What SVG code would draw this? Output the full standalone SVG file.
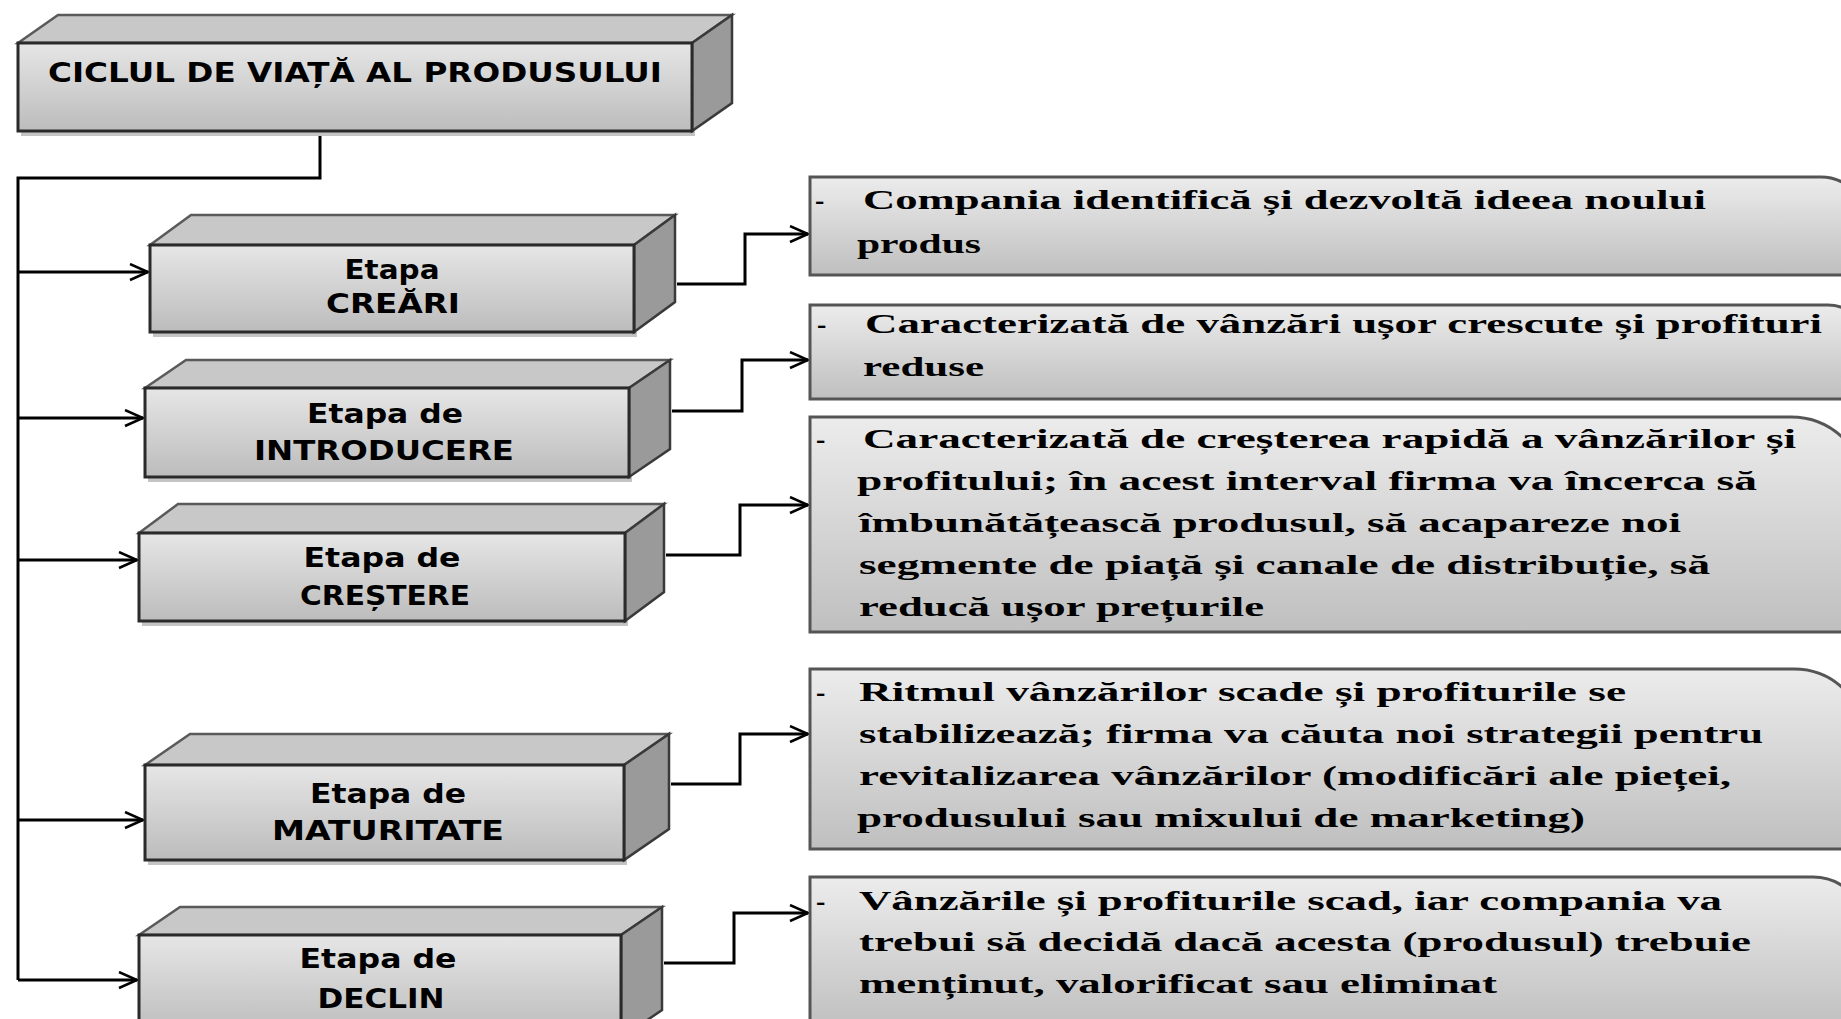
<svg xmlns="http://www.w3.org/2000/svg" width="1841" height="1019" viewBox="0 0 1841 1019">
<style>
.front{fill:url(#gFront);stroke:#2a2a2a;stroke-width:3}
.top{fill:#c8c8c8;stroke:#5a5a5a;stroke-width:2.5}
.side{fill:#9a9a9a;stroke:#3a3a3a;stroke-width:2.5}
.shadow{fill:#c4c4c4}
.lbl{font-family:"DejaVu Sans","Liberation Sans",sans-serif;font-weight:bold;font-size:26px;fill:#000;text-anchor:middle}
.desc{fill:url(#gDesc);stroke:#555;stroke-width:3}
.dt{font-family:"Liberation Serif","Times New Roman",serif;font-weight:bold;font-size:28px;fill:#000}
.con{fill:none;stroke:#000;stroke-width:3}
</style>
<defs>
<linearGradient id="gFront" x1="0" y1="0" x2="0" y2="1">
<stop offset="0" stop-color="#e6e6e6"/><stop offset="1" stop-color="#bcbcbc"/>
</linearGradient>
<linearGradient id="gDesc" x1="0" y1="0" x2="0" y2="1">
<stop offset="0" stop-color="#ececec"/><stop offset="1" stop-color="#bfbfbf"/>
</linearGradient>
<marker id="arr" markerUnits="userSpaceOnUse" markerWidth="24" markerHeight="20" refX="20" refY="9" orient="auto" viewBox="0 0 24 20">
<path d="M2,1 L20,9 L2,17" fill="none" stroke="#000" stroke-width="2.5"/>
</marker>
</defs>
<rect width="1841" height="1019" fill="#fff"/>

<g id="connectors">
<path class="con" d="M320,131 V178 H18 V980"/>
<path class="con" d="M18,272 H148" marker-end="url(#arr)"/>
<path class="con" d="M18,418 H143" marker-end="url(#arr)"/>
<path class="con" d="M18,560 H137" marker-end="url(#arr)"/>
<path class="con" d="M18,820 H143" marker-end="url(#arr)"/>
<path class="con" d="M18,980 H137" marker-end="url(#arr)"/>
<path class="con" d="M677,284 H745 V234 H808" marker-end="url(#arr)"/>
<path class="con" d="M672,411 H742 V360 H808" marker-end="url(#arr)"/>
<path class="con" d="M666,555 H740 V505 H808" marker-end="url(#arr)"/>
<path class="con" d="M671,784 H740 V734 H808" marker-end="url(#arr)"/>
<path class="con" d="M664,963 H734 V913 H808" marker-end="url(#arr)"/>
</g>

<g id="node-ciclul">
<rect class="shadow" x="21" y="131" width="674" height="5"/>
<polygon class="top" points="18,43 58,15 732,15 692,43"/>
<polygon class="side" points="692,43 732,15 732,103 692,131"/>
<rect class="front" x="18" y="43" width="674" height="88"/>
<text class="lbl" x="355" y="82" textLength="614" lengthAdjust="spacingAndGlyphs">CICLUL DE VIAȚĂ AL PRODUSULUI</text>
</g>

<g id="node-creari">
<rect class="shadow" x="153" y="332" width="484" height="5"/>
<polygon class="top" points="150,245 191,215 675,215 634,245"/>
<polygon class="side" points="634,245 675,215 675,302 634,332"/>
<rect class="front" x="150" y="245" width="484" height="87"/>
<text class="lbl" x="392" y="279" textLength="95" lengthAdjust="spacingAndGlyphs">Etapa</text>
<text class="lbl" x="393" y="313" textLength="134" lengthAdjust="spacingAndGlyphs">CREĂRI</text>
</g>

<g id="node-introducere">
<rect class="shadow" x="148" y="477" width="484" height="5"/>
<polygon class="top" points="145,388 186,360 670,360 629,388"/>
<polygon class="side" points="629,388 670,360 670,449 629,477"/>
<rect class="front" x="145" y="388" width="484" height="89"/>
<text class="lbl" x="385" y="423" textLength="156" lengthAdjust="spacingAndGlyphs">Etapa de</text>
<text class="lbl" x="384" y="460" textLength="260" lengthAdjust="spacingAndGlyphs">INTRODUCERE</text>
</g>

<g id="node-crestere">
<rect class="shadow" x="142" y="621" width="486" height="5"/>
<polygon class="top" points="139,533 178,504 664,504 625,533"/>
<polygon class="side" points="625,533 664,504 664,592 625,621"/>
<rect class="front" x="139" y="533" width="486" height="88"/>
<text class="lbl" x="382" y="567" textLength="157" lengthAdjust="spacingAndGlyphs">Etapa de</text>
<text class="lbl" x="385" y="605" textLength="170" lengthAdjust="spacingAndGlyphs">CREȘTERE</text>
</g>

<g id="node-maturitate">
<rect class="shadow" x="148" y="860" width="479" height="5"/>
<polygon class="top" points="145,765 190,734 669,734 624,765"/>
<polygon class="side" points="624,765 669,734 669,829 624,860"/>
<rect class="front" x="145" y="765" width="479" height="95"/>
<text class="lbl" x="388" y="803" textLength="156" lengthAdjust="spacingAndGlyphs">Etapa de</text>
<text class="lbl" x="388" y="840" textLength="232" lengthAdjust="spacingAndGlyphs">MATURITATE</text>
</g>

<g id="node-declin">
<polygon class="top" points="139,935 180,907 662,907 621,935"/>
<polygon class="side" points="621,935 662,907 662,1010 621,1038"/>
<rect class="front" x="139" y="935" width="482" height="100"/>
<text class="lbl" x="378" y="968" textLength="157" lengthAdjust="spacingAndGlyphs">Etapa de</text>
<text class="lbl" x="381" y="1008" textLength="127" lengthAdjust="spacingAndGlyphs">DECLIN</text>
</g>

<g id="node-desc-creari">
<path class="desc" d="M810,177 H1821 A45,45 0 0 1 1866,222 V275 H810 Z"/>
<text class="dt" x="815" y="209">-</text>
<text class="dt" x="863" y="209" textLength="843" lengthAdjust="spacingAndGlyphs">Compania identifică și dezvoltă ideea noului</text>
<text class="dt" x="857" y="253" textLength="124" lengthAdjust="spacingAndGlyphs">produs</text>
</g>

<g id="node-desc-introducere">
<path class="desc" d="M810,305 H1828 A38,38 0 0 1 1866,343 V399 H810 Z"/>
<text class="dt" x="817" y="333">-</text>
<text class="dt" x="865" y="333" textLength="957" lengthAdjust="spacingAndGlyphs">Caracterizată de vânzări ușor crescute și profituri</text>
<text class="dt" x="863" y="376" textLength="121" lengthAdjust="spacingAndGlyphs">reduse</text>
</g>

<g id="node-desc-crestere">
<path class="desc" d="M810,417 H1791 A75,75 0 0 1 1866,492 V632 H810 Z"/>
<text class="dt" x="816" y="448">-</text>
<text class="dt" x="863" y="448" textLength="933" lengthAdjust="spacingAndGlyphs">Caracterizată de creșterea rapidă a vânzărilor și</text>
<text class="dt" x="857" y="490" textLength="900" lengthAdjust="spacingAndGlyphs">profitului; în acest interval firma va încerca să</text>
<text class="dt" x="859" y="532" textLength="822" lengthAdjust="spacingAndGlyphs">îmbunătățească produsul, să acapareze noi</text>
<text class="dt" x="859" y="574" textLength="851" lengthAdjust="spacingAndGlyphs">segmente de piață și canale de distribuție, să</text>
<text class="dt" x="859" y="616" textLength="405" lengthAdjust="spacingAndGlyphs">reducă ușor prețurile</text>
</g>

<g id="node-desc-maturitate">
<path class="desc" d="M810,669 H1794 A72,72 0 0 1 1866,741 V849 H810 Z"/>
<text class="dt" x="816" y="701">-</text>
<text class="dt" x="859" y="701" textLength="767" lengthAdjust="spacingAndGlyphs">Ritmul vânzărilor scade și profiturile se</text>
<text class="dt" x="859" y="743" textLength="904" lengthAdjust="spacingAndGlyphs">stabilizează; firma va căuta noi strategii pentru</text>
<text class="dt" x="859" y="785" textLength="872" lengthAdjust="spacingAndGlyphs">revitalizarea vânzărilor (modificări ale pieței,</text>
<text class="dt" x="857" y="827" textLength="728" lengthAdjust="spacingAndGlyphs">produsului sau mixului de marketing)</text>
</g>

<g id="node-desc-declin">
<path class="desc" d="M810,877 H1813 A53,53 0 0 1 1866,930 V1030 H810 Z"/>
<text class="dt" x="816" y="910">-</text>
<text class="dt" x="859" y="910" textLength="863" lengthAdjust="spacingAndGlyphs">Vânzările și profiturile scad, iar compania va</text>
<text class="dt" x="859" y="951" textLength="892" lengthAdjust="spacingAndGlyphs">trebui să decidă dacă acesta (produsul) trebuie</text>
<text class="dt" x="859" y="993" textLength="638" lengthAdjust="spacingAndGlyphs">menținut, valorificat sau eliminat</text>
</g>
</svg>
